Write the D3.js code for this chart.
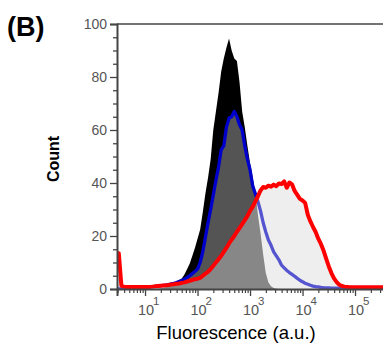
<!DOCTYPE html>
<html>
<head>
<meta charset="utf-8">
<script src="https://cdn.jsdelivr.net/npm/d3@7"></script>
<style>
  body { margin: 0; background: #fff; }
  svg { display: block; font-family: Arial, "Liberation Sans", sans-serif; }
</style>
</head>
<body>
<div id="chart"></div>
<script>
// histogram bins, as log10 of fluorescence (a.u.)
const binExp = [0.45,0.50,0.55,0.60,0.65,0.70,0.75,0.80,0.85,0.90,0.95,
  1.00,1.05,1.10,1.15,1.20,1.25,1.30,1.35,1.40,1.45,1.50,1.55,1.60,1.65,1.70,1.75,1.80,1.85,1.90,1.95,
  2.00,2.05,2.10,2.15,2.20,2.25,2.30,2.35,2.40,2.45,2.50,2.55,2.60,2.65,2.70,2.75,2.80,2.85,2.90,2.95,
  3.00,3.05,3.10,3.15,3.20,3.25,3.30,3.35,3.40,3.45,3.50,3.55,3.60,3.65,3.70,3.75,3.80,3.85,3.90,3.95,
  4.00,4.05,4.10,4.15,4.20,4.25,4.30,4.35,4.40,4.45,4.50,4.55,4.60,4.65,4.70,4.75,4.80,4.85,4.90,4.95,
  5.00,5.05,5.10,5.15,5.20,5.25,5.30,5.35,5.40,5.45,5.50,5.55];

// black filled histogram
const countBlack = [0,0,0,0,0,0,0,0,0,0,0,
  0,0,0,0,0.1,0.2,0.3,0.5,0.8,1.2,1.6,2.1,2.8,3.4,4,5.5,7.5,9.5,12.5,15.5,
  19,22.5,29,36,42,49,60,67,74,82,87,91,94.5,90,87,86,78,67,61,54,
  47.5,42,36.5,28,21,13,6,2.5,1,0.4,0.1,0,0,0,0,0,0,0,0,0,
  0,0,0,0,0,0,0,0,0,0,0,0,0,0,0,0,0,0,0,0,
  0,0,0,0,0,0,0,0,0,0,0,0];

// blue histogram
const countBlue = [0,0,0,0,0,0,0.1,0.2,0.3,0.4,0.5,
  0.6,0.7,0.8,0.9,1.0,1.1,1.2,1.4,1.5,1.7,1.9,2.1,2.4,2.8,3.2,3.7,4.3,5,5.8,6.6,
  7.5,10,14,19.5,25,30,35.5,41,46,52.5,54,61,64.5,65,67,65,62,60,54,49,
  45,39,36,33,29.5,25,21.5,18.5,16.5,14,12.5,11,9,8,7,6.2,5.5,4.8,4,3.3,
  2.7,2.2,1.8,1.4,1.1,0.9,0.8,0.6,0.5,0.45,0.4,0.35,0.3,0.3,0.25,0.25,0.25,0.25,0.2,0.2,
  0.2,0.2,0.2,0.2,0.2,0.2,0.2,0.2,0.2,0.2,0.2,0.2];

// red histogram
const countRed = [13.5,13.5,1.2,0.9,0.8,0.8,0.8,0.8,0.8,0.8,0.8,
  0.8,0.8,0.8,0.9,1,1.1,1.2,1.3,1.4,1.5,1.7,1.8,2,2.1,2.3,2.5,2.8,3.1,3.4,3.7,
  3.9,4.2,5,5.8,6.5,7.5,8.8,10,11.2,12.5,14,15.5,17.2,18.6,20,21.6,23,24.5,26,27.5,
  29.5,31,33,35,37.2,38.5,38.2,39,38.6,39.4,38.8,39.8,39.6,40.6,38.2,40.2,39.5,37,35.5,34,
  33.4,32.5,28,25.5,23.4,21.5,19,17,14.5,11.5,8.5,6,4,2.6,1.6,1.1,0.9,0.8,0.7,0.7,
  0.7,0.7,0.7,0.7,0.7,0.7,0.7,0.7,0.7,0.7,0.7,0.7];

const yMajor = [0, 20, 40, 60, 80, 100];
const xMajorExp = [1, 2, 3, 4, 5];

// Size
const W = 383, H = 344;
const plot = { left: 117, top: 24, bottom: 289, right: 383 };

const svg = d3.select("#chart")
  .append("svg")
  .attr("width", W)
  .attr("height", H);

// Scales (log x, one decade ~52.5px)
const x = d3.scaleLog()
  .domain([Math.pow(10, 0.466), Math.pow(10, 5.6)])
  .range([plot.left, plot.left + 52.5 * (5.6 - 0.466)]);
const y = d3.scaleLinear().domain([0, 100]).range([plot.bottom, plot.top]);

const rows = binExp.map((e, i) => ({
  v: Math.pow(10, e), k: countBlack[i], b: countBlue[i], r: countRed[i]
}));

svg.append("clipPath").attr("id", "clip")
  .append("rect")
  .attr("x", plot.left).attr("y", plot.top)
  .attr("width", W - plot.left).attr("height", plot.bottom - plot.top + 1);

const g = svg.append("g").attr("clip-path", "url(#clip)");

const area = key => d3.area()
  .x(d => x(d.v)).y0(y(0)).y1(d => y(d[key]));
const line = key => d3.line()
  .x(d => x(d.v)).y(d => y(d[key]));

g.append("path").datum(rows).attr("d", area("k")).attr("fill", "#000");
g.append("path").datum(rows).attr("d", area("b")).attr("fill", "rgba(255,255,255,0.33)");
g.append("path").datum(rows).attr("d", line("b"))
  .attr("fill", "none").attr("stroke", "#0000cc").attr("stroke-width", 3.3)
  .attr("stroke-linejoin", "round");
g.append("path").datum(rows).attr("d", area("r")).attr("fill", "rgba(212,212,212,0.4)");
g.append("path").datum(rows).attr("d", line("r"))
  .attr("fill", "none").attr("stroke", "#ff0000").attr("stroke-width", 4)
  .attr("stroke-linejoin", "round");

// frame
const axisColor = "#444";
svg.append("line")
  .attr("x1", plot.left).attr("x2", W).attr("y1", plot.top).attr("y2", plot.top)
  .attr("stroke", axisColor).attr("stroke-width", 1.5);

// y axis
const yMinor = d3.range(0, 101, 5).filter(v => v % 20 !== 0);
svg.append("g")
  .attr("transform", `translate(${plot.left},0)`)
  .call(d3.axisLeft(y).tickValues(yMinor).tickSize(4).tickFormat(""))
  .call(a => a.select(".domain").remove())
  .selectAll("line").attr("stroke", axisColor).attr("stroke-width", 1.3);
const yAx = svg.append("g")
  .attr("transform", `translate(${plot.left},0)`)
  .call(d3.axisLeft(y).tickValues(yMajor).tickSize(7).tickPadding(3));
yAx.select(".domain").attr("stroke", axisColor).attr("stroke-width", 2);
yAx.selectAll("line").attr("stroke", axisColor).attr("stroke-width", 1.3);
yAx.selectAll("text").attr("fill", "#555").style("font-size", "14px")
  .style("font-family", "Arial, 'Liberation Sans', sans-serif");

// x axis
const xMinor = [];
for (let d = 0; d <= 5; d++) {
  for (let k = 2; k <= 9; k++) {
    const v = k * Math.pow(10, d);
    if (v >= x.domain()[0] && v <= x.domain()[1]) xMinor.push(v);
  }
}
svg.append("g")
  .attr("transform", `translate(0,${plot.bottom})`)
  .call(d3.axisBottom(x).tickValues(xMinor).tickSize(4).tickFormat(""))
  .call(a => a.select(".domain").remove())
  .selectAll("line").attr("stroke", axisColor).attr("stroke-width", 1.2);
const xAx = svg.append("g")
  .attr("transform", `translate(0,${plot.bottom})`)
  .call(d3.axisBottom(x).tickValues(xMajorExp.map(e => Math.pow(10, e))).tickSize(7).tickFormat(""));
xAx.select(".domain").attr("stroke", axisColor).attr("stroke-width", 2);
xAx.selectAll("line").attr("stroke", axisColor).attr("stroke-width", 1.3);

const xl = svg.append("g").attr("fill", "#555")
  .style("font-family", "Arial, 'Liberation Sans', sans-serif");
xMajorExp.forEach(e => {
  const px = x(Math.pow(10, e));
  xl.append("text").attr("x", px + 1).attr("y", 315)
    .attr("text-anchor", "middle").style("font-size", "14.5px").text("10");
  xl.append("text").attr("x", px + 8).attr("y", 305)
    .style("font-size", "11.5px").text(e);
});

// labels
svg.append("text")
  .attr("x", 7).attr("y", 36)
  .style("font-size", "27px").style("font-weight", "bold")
  .text("(B)");

svg.append("text")
  .attr("transform", "translate(59,159) rotate(-90)")
  .attr("text-anchor", "middle")
  .style("font-size", "16px").style("font-weight", "bold")
  .text("Count");

svg.append("text")
  .attr("x", 236).attr("y", 339)
  .attr("text-anchor", "middle")
  .style("font-size", "18.5px")
  .text("Fluorescence (a.u.)");
</script>
</body>
</html>
